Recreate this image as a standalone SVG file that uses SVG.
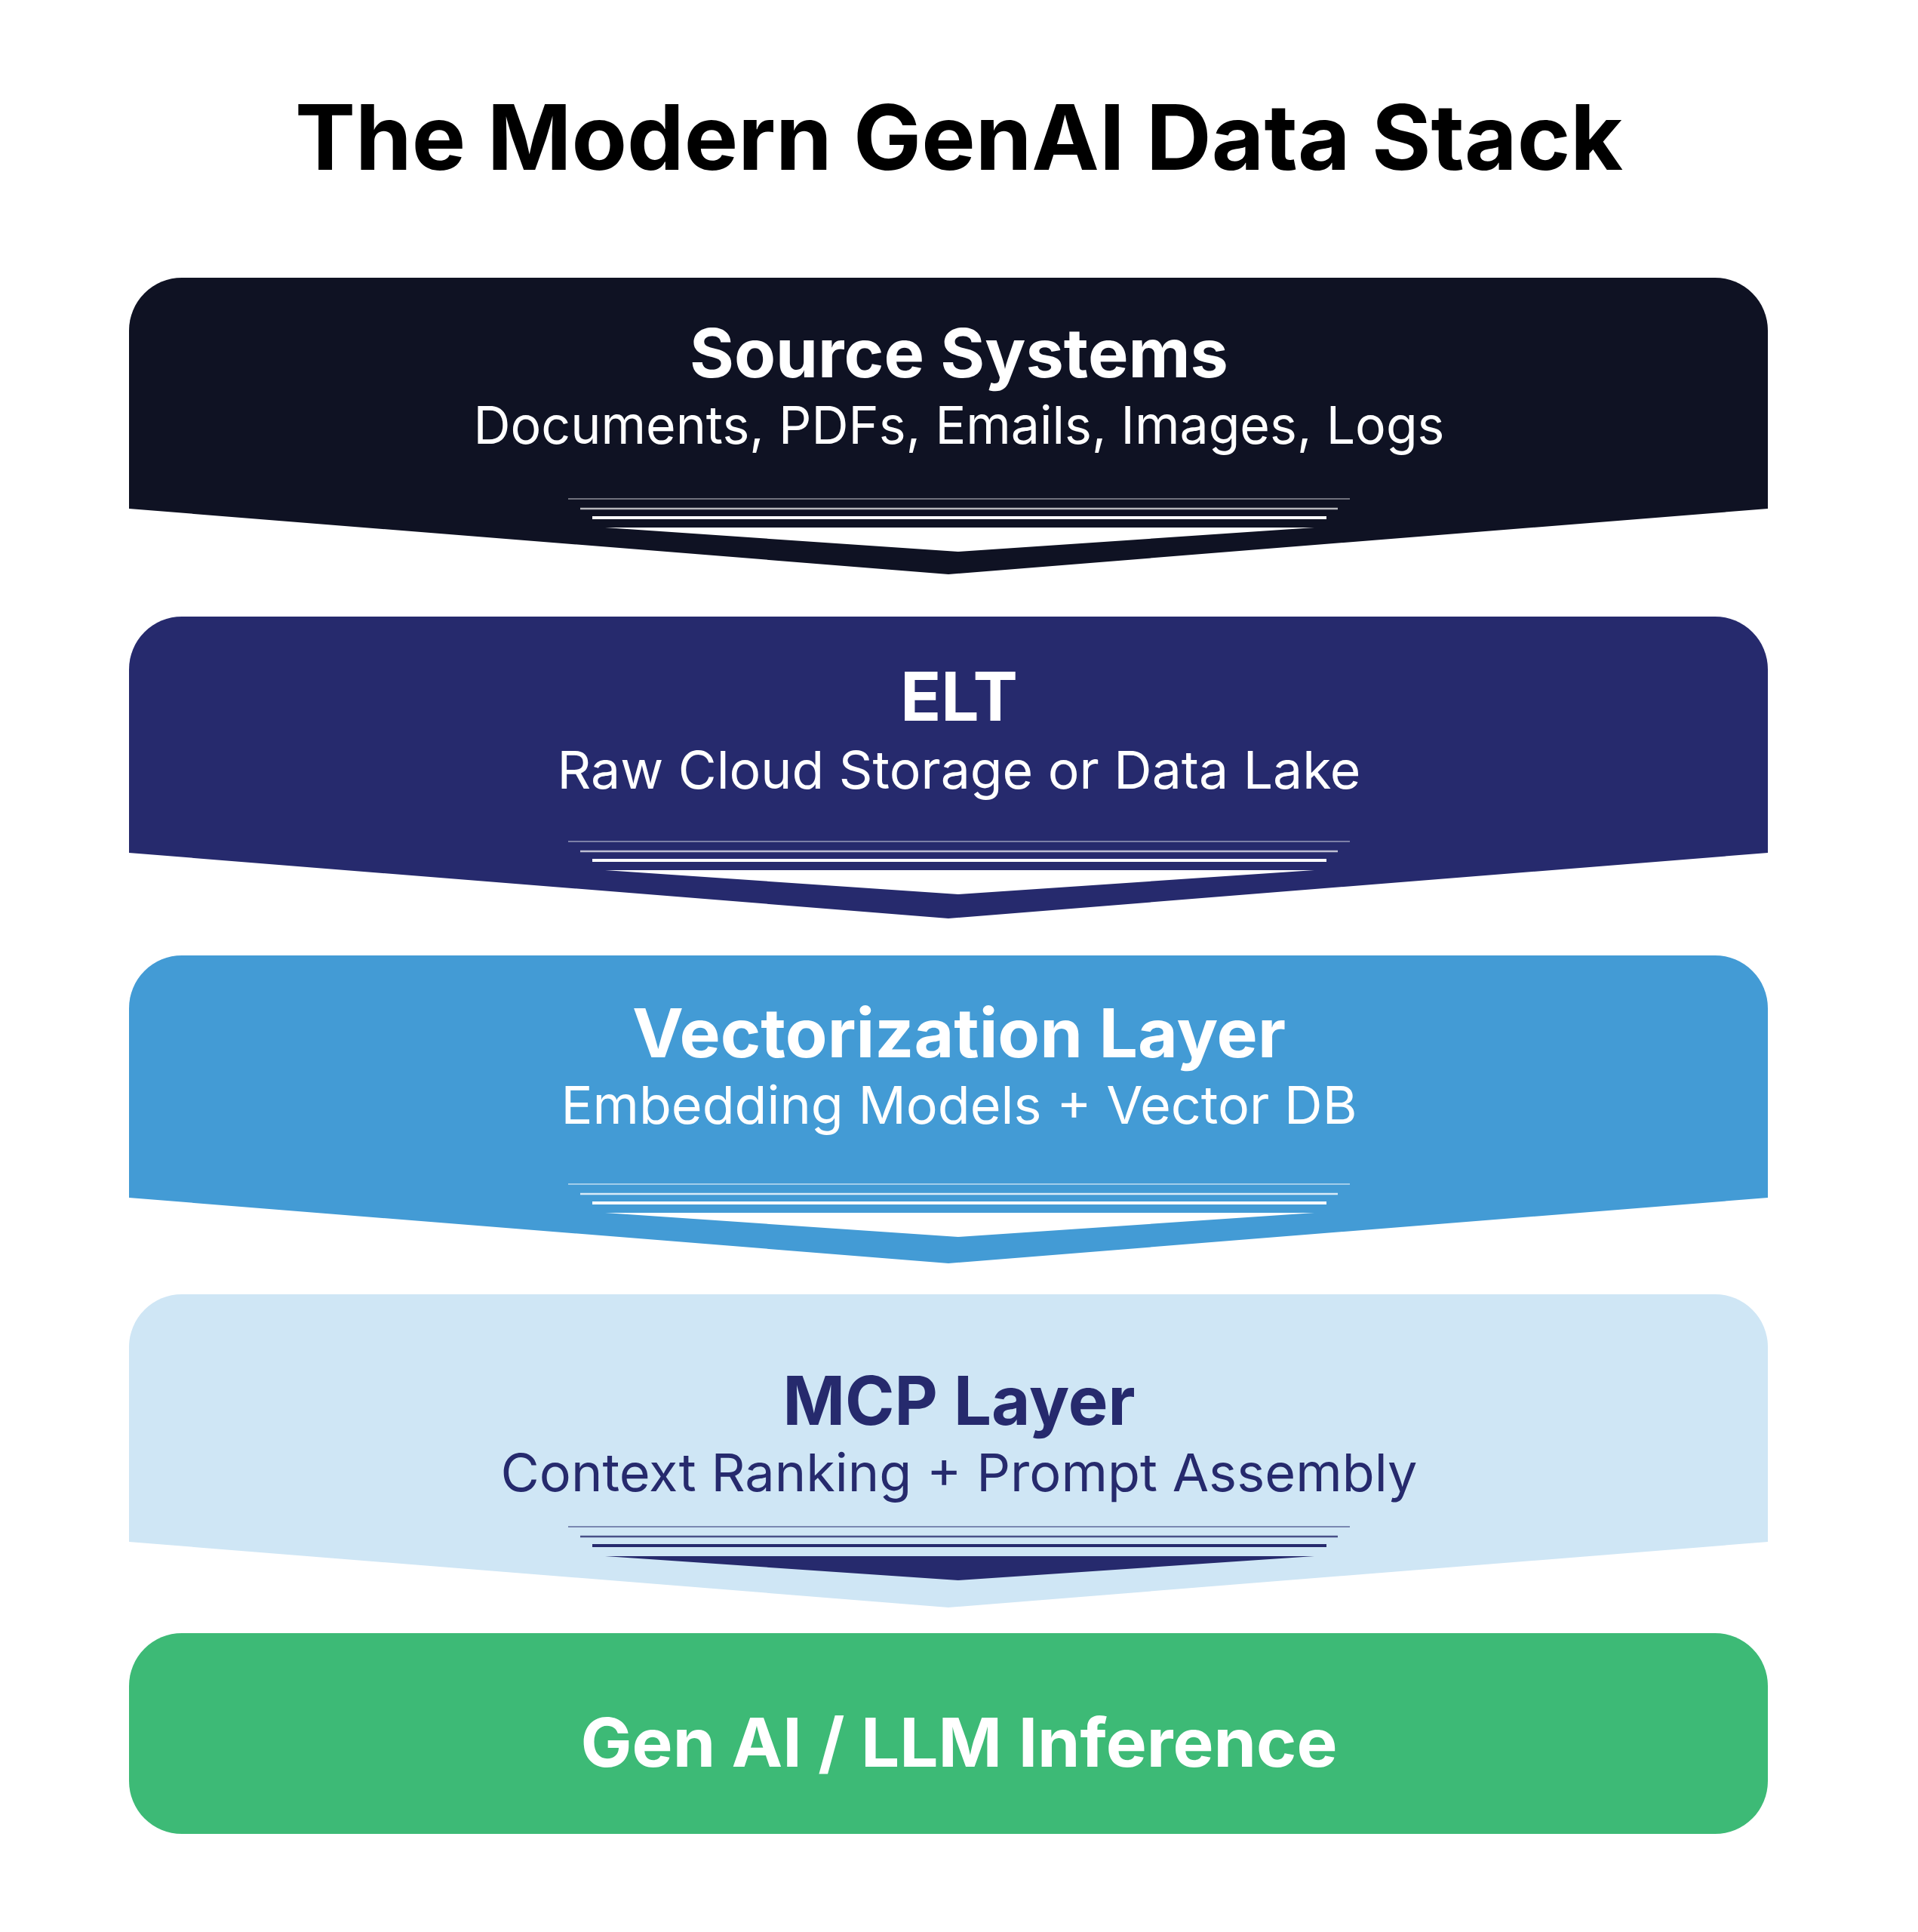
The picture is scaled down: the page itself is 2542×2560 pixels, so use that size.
<svg xmlns="http://www.w3.org/2000/svg" width="2542" height="2560" viewBox="0 0 2542 2560">
<style>
text{font-family:Inter,"Noto Sans","Liberation Sans",sans-serif;text-anchor:middle}
.title{font-size:120px;font-weight:700;fill:#000}
.h{font-size:89px;font-weight:700}
.s{font-size:69px;font-weight:400}
.w{fill:#fff}
.n{fill:#262a6d}
.l1{stroke-width:2}
.l2{stroke-width:2.5}
.l3{stroke-width:4}
</style>
<rect width="2542" height="2560" fill="#fff"/>
<text class="title" x="1271" y="225">The Modern GenAI Data Stack</text>

<g id="source-systems">
<path d="M171,674 L171,438 A70,70 0 0 1 241,368 L2273,368 A70,70 0 0 1 2343,438 L2343,674 L1257,761 Z" fill="#0f1223"/>
<g fill="none" stroke="#fff">
<line class="l1" x1="753" y1="661" x2="1789" y2="661" stroke-opacity="0.4"/>
<line class="l2" x1="769" y1="674" x2="1773" y2="674" stroke-opacity="0.7"/>
<line class="l3" x1="785" y1="686" x2="1758" y2="686"/>
</g>
<polygon points="802,699 1742,699 1270,731" fill="#fff"/>
<text class="h w" x="1271" y="500" textLength="714" lengthAdjust="spacingAndGlyphs">Source Systems</text>
<text class="s w" x="1271" y="588" textLength="1287" lengthAdjust="spacingAndGlyphs">Documents, PDFs, Emails, Images, Logs</text>
</g>

<g id="elt">
<path d="M171,1130 L171,887 A70,70 0 0 1 241,817 L2273,817 A70,70 0 0 1 2343,887 L2343,1130 L1257,1217 Z" fill="#262a6d"/>
<g fill="none" stroke="#fff">
<line class="l1" x1="753" y1="1115" x2="1789" y2="1115" stroke-opacity="0.4"/>
<line class="l2" x1="769" y1="1128" x2="1773" y2="1128" stroke-opacity="0.7"/>
<line class="l3" x1="785" y1="1140" x2="1758" y2="1140"/>
</g>
<polygon points="802,1153 1742,1153 1270,1185" fill="#fff"/>
<text class="h w" x="1271" y="955">ELT</text>
<text class="s w" x="1271" y="1045" textLength="1065" lengthAdjust="spacingAndGlyphs">Raw Cloud Storage or Data Lake</text>
</g>

<g id="vectorization-layer">
<path d="M171,1587 L171,1336 A70,70 0 0 1 241,1266 L2273,1266 A70,70 0 0 1 2343,1336 L2343,1587 L1257,1674 Z" fill="#439bd5"/>
<g fill="none" stroke="#fff">
<line class="l1" x1="753" y1="1569" x2="1789" y2="1569" stroke-opacity="0.5"/>
<line class="l2" x1="769" y1="1582" x2="1773" y2="1582" stroke-opacity="0.8"/>
<line class="l3" x1="785" y1="1594" x2="1758" y2="1594"/>
</g>
<polygon points="802,1607 1742,1607 1270,1639" fill="#fff"/>
<text class="h w" x="1271" y="1401" textLength="866" lengthAdjust="spacingAndGlyphs">Vectorization Layer</text>
<text class="s w" x="1271" y="1489" textLength="1055" lengthAdjust="spacingAndGlyphs">Embedding Models + Vector DB</text>
</g>

<g id="mcp-layer">
<path d="M171,2043 L171,1785 A70,70 0 0 1 241,1715 L2273,1715 A70,70 0 0 1 2343,1785 L2343,2043 L1257,2130 Z" fill="#cfe6f5"/>
<g fill="none" stroke="#262a6d">
<line class="l1" x1="753" y1="2023" x2="1789" y2="2023" stroke-opacity="0.5"/>
<line class="l2" x1="769" y1="2036" x2="1773" y2="2036" stroke-opacity="0.8"/>
<line class="l3" x1="785" y1="2048" x2="1758" y2="2048"/>
</g>
<polygon points="802,2062 1742,2062 1270,2094" fill="#262a6d"/>
<text class="h n" x="1271" y="1888" textLength="467" lengthAdjust="spacingAndGlyphs">MCP Layer</text>
<text class="s n" x="1271" y="1976" textLength="1215" lengthAdjust="spacingAndGlyphs">Context Ranking + Prompt Assembly</text>
</g>

<g id="gen-ai-llm-inference">
<rect x="171" y="2164" width="2172" height="266" rx="70" fill="#3dba76"/>
<text class="h w" x="1271" y="2341" textLength="1003" lengthAdjust="spacingAndGlyphs">Gen AI / LLM Inference</text>
</g>

<g id="connectors"/>
</svg>
